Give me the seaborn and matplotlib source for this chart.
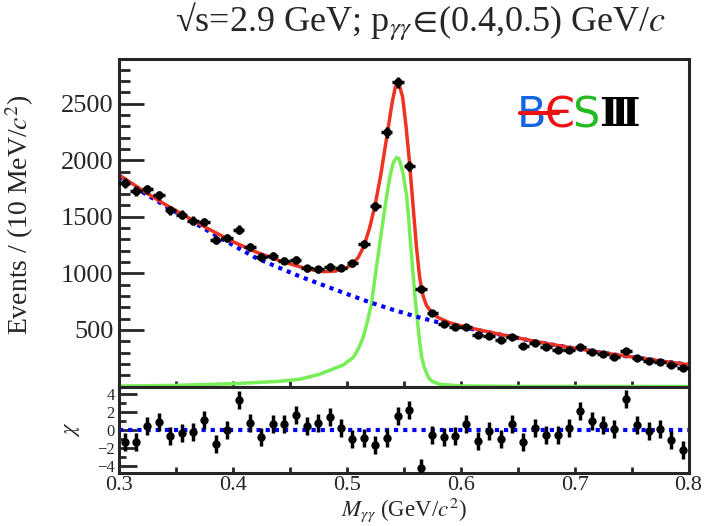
import numpy as np
import pandas as pd
import matplotlib
matplotlib.use('Agg')
import matplotlib.pyplot as plt
from matplotlib.ticker import MultipleLocator
import seaborn as sns

# bin centres of M_gg (10 MeV bins)
bin_centers = [0.305, 0.315, 0.325, 0.335, 0.345, 0.355, 0.365, 0.375, 0.385, 0.395,
               0.405, 0.415, 0.425, 0.435, 0.445, 0.455, 0.465, 0.475, 0.485, 0.495,
               0.505, 0.515, 0.525, 0.535, 0.545, 0.555, 0.565, 0.575, 0.585, 0.595,
               0.605, 0.615, 0.625, 0.635, 0.645, 0.655, 0.665, 0.675, 0.685, 0.695,
               0.705, 0.715, 0.725, 0.735, 0.745, 0.755, 0.765, 0.775, 0.785, 0.795]
events = [1796, 1727, 1742, 1689, 1558, 1520, 1466, 1454, 1297, 1312,
          1386, 1237, 1143, 1155, 1113, 1119, 1045, 1036, 1059, 1050,
          1089, 1258, 1594, 2248, 2687, 1950, 863, 653, 555, 525,
          525, 459, 450, 412, 435, 361, 382, 346, 323, 323,
          346, 308, 287, 263, 316, 248, 228, 219, 189, 163]
chi = [-1.37, -1.37, 0.37, 0.81, -0.74, -0.37, -0.26, 1.04, -1.56, 0.0,
       3.33, 0.74, -0.81, 0.67, 0.67, 1.67, 0.37, 0.74, 1.41, 0.19,
       -1.04, -0.93, -1.67, -0.93, 1.56, 2.22, -4.26, -0.56, -0.81, -0.67,
       0.67, -1.30, -0.19, -1.04, 0.63, -1.41, 0.19, -0.56, -0.56, 0.19,
       2.04, 0.93, 0.56, 0.11, 3.41, 0.56, -0.19, 0.07, -1.19, -2.30]

# fit curves
tot_x = [0.300, 0.320, 0.340, 0.360, 0.380, 0.400, 0.420, 0.440, 0.460, 0.470,
         0.480, 0.490, 0.500, 0.505, 0.510, 0.515, 0.520, 0.525, 0.530, 0.535,
         0.540, 0.5425, 0.5445, 0.5465, 0.549, 0.552, 0.555, 0.558, 0.561, 0.564,
         0.567, 0.570, 0.575, 0.580, 0.590, 0.600, 0.620, 0.640, 0.660, 0.680,
         0.700, 0.720, 0.740, 0.760, 0.780, 0.800]
tot_y = [1870, 1738, 1612, 1497, 1385, 1280, 1190, 1115, 1055, 1030,
         1015, 1020, 1050, 1085, 1140, 1240, 1400, 1610, 1880, 2200,
         2520, 2640, 2692, 2650, 2560, 2300, 1990, 1620, 1250, 960,
         800, 715, 650, 610, 565, 537, 492, 450, 410, 372,
         338, 306, 276, 248, 220, 193]
bkg_x = [0.30, 0.32, 0.34, 0.36, 0.38, 0.40, 0.42, 0.44, 0.46, 0.48, 0.50, 0.52, 0.54,
         0.56, 0.58, 0.60, 0.62, 0.64, 0.66, 0.68, 0.70, 0.72, 0.74, 0.76, 0.78, 0.80]
bkg_y = [1850, 1722, 1600, 1482, 1365, 1250, 1138, 1052, 968, 893, 818, 745, 680,
         620, 568, 527, 488, 448, 408, 371, 337, 305, 275, 247, 220, 193]
sig_x = [0.300, 0.350, 0.400, 0.440, 0.4586, 0.476, 0.4968, 0.5056, 0.510, 0.5144,
         0.518, 0.5217, 0.525, 0.529, 0.532, 0.535, 0.538, 0.540, 0.5415, 0.5438,
         0.5455, 0.547, 0.5495, 0.5526, 0.5542, 0.5555, 0.5584, 0.560, 0.562, 0.5638,
         0.5658, 0.568, 0.5717, 0.575, 0.582, 0.600, 0.650, 0.800]
sig_y = [4, 10, 25, 45, 64, 108, 190, 256, 330, 434,
         570, 732, 980, 1266, 1480, 1682, 1860, 1950, 1990, 2024,
         2015, 1975, 1880, 1682, 1500, 1325, 969, 780, 583, 410,
         256, 170, 78, 45, 19, 5, 1, 0]

df = pd.DataFrame({'m': bin_centers, 'n': events, 'chi': chi})

sns.set_theme(style='ticks')
plt.rcParams['font.family'] = ['Liberation Serif', 'DejaVu Serif']
plt.rcParams['mathtext.fontset'] = 'stix'

fig = plt.figure(figsize=(7.04, 5.26), dpi=100)
ax = fig.add_axes([0.169, 0.2652, 0.809, 0.6217])
axr = fig.add_axes([0.169, 0.1008, 0.809, 0.1644], sharex=ax)

dots = (0, (1, 1.2))
sns.lineplot(x=sig_x, y=sig_y, ax=ax, color='#77ee55', lw=2.5)
sns.lineplot(x=bkg_x, y=bkg_y, ax=ax, color='#0000ff', lw=3, linestyle=dots)
sns.lineplot(x=tot_x, y=tot_y, ax=ax, color='#ee3322', lw=2.5)
ax.errorbar(df['m'], df['n'], xerr=0.005, yerr=np.sqrt(df['n']), fmt='o', color='black',
            ms=5, elinewidth=2.5, capsize=0, zorder=5)

axr.axhline(0, color='#0000ff', lw=3, ls=dots)
axr.errorbar(df['m'], df['chi'], yerr=1, fmt='o', color='black', ms=5,
             elinewidth=2.5, capsize=0, zorder=5)

ax.set_xlim(0.3, 0.8)
ax.set_ylim(0, 2890)
ax.set_yticks([500, 1000, 1500, 2000, 2500])
ax.yaxis.set_minor_locator(MultipleLocator(100))
ax.xaxis.set_major_locator(MultipleLocator(0.1))
ax.xaxis.set_minor_locator(MultipleLocator(0.05))
ax.tick_params(axis='y', which='major', direction='in', length=18, width=2, labelsize=19, pad=4)
ax.tick_params(axis='y', which='minor', direction='in', length=8, width=2)
ax.tick_params(axis='x', which='both', direction='in', length=4, width=2, labelbottom=False)
ax.set_xlabel('')
ax.set_ylabel('Events / (10 MeV/$c^2$)', fontsize=20)
ax.yaxis.set_label_coords(-0.146, 0.524)

axr.set_ylim(-4.8, 4.8)
axr.set_yticks([-4, -2, 0, 2, 4])
axr.yaxis.set_minor_locator(MultipleLocator(1))
axr.tick_params(axis='y', which='major', direction='in', length=13, width=2, labelsize=12, pad=3)
axr.tick_params(axis='y', which='minor', direction='in', length=5, width=2)
axr.tick_params(axis='x', which='both', direction='in', length=4, width=2, labelsize=16, pad=2)
axr.set_xticks([0.3, 0.4, 0.5, 0.6, 0.7, 0.8])
axr.set_xticklabels(['0.3', '0.4', '0.5', '0.6', '0.7', '0.8'])
axr.set_ylabel(r'$\chi$', fontsize=16)
axr.yaxis.set_label_coords(-0.065, 0.5)
axr.set_xlabel(r'$M_{\gamma\gamma}$ (GeV/$c^2$)', fontsize=16.5, va='baseline')
axr.xaxis.set_label_coords(0.5, -0.50)

for a in (ax, axr):
    for s in a.spines.values():
        s.set_linewidth(2.2)
        s.set_visible(True)
    a.set_facecolor('white')

fig.text(0.597, 0.94, r'√s=2.9 GeV; p$_{\gamma\gamma}\!\in\!$(0.4,0.5) GeV/$c$',
         ha='center', va='baseline', fontsize=26)

# BESIII logo
logo_font = ['DejaVu Sans']
ax.plot([0.705, 0.770], [0.835, 0.835], color='#ee1111', lw=3, transform=ax.transAxes, zorder=6)
ax.text(0.724, 0.83, 'B', color='#1565e0', fontsize=31, ha='center', va='center',
        transform=ax.transAxes, family=logo_font)
ax.text(0.774, 0.83, 'Є', color='#ee1111', fontsize=31, ha='center', va='center',
        transform=ax.transAxes, family=logo_font)
ax.text(0.820, 0.83, 'S', color='#22bb22', fontsize=31, ha='center', va='center',
        transform=ax.transAxes, family=logo_font)
ax.text(0.878, 0.83, 'Ⅲ', color='black', fontsize=29, ha='center', va='center',
        transform=ax.transAxes, family=['DejaVu Serif', 'DejaVu Sans'], fontweight='bold')

fig.savefig('out.png', dpi=100)
